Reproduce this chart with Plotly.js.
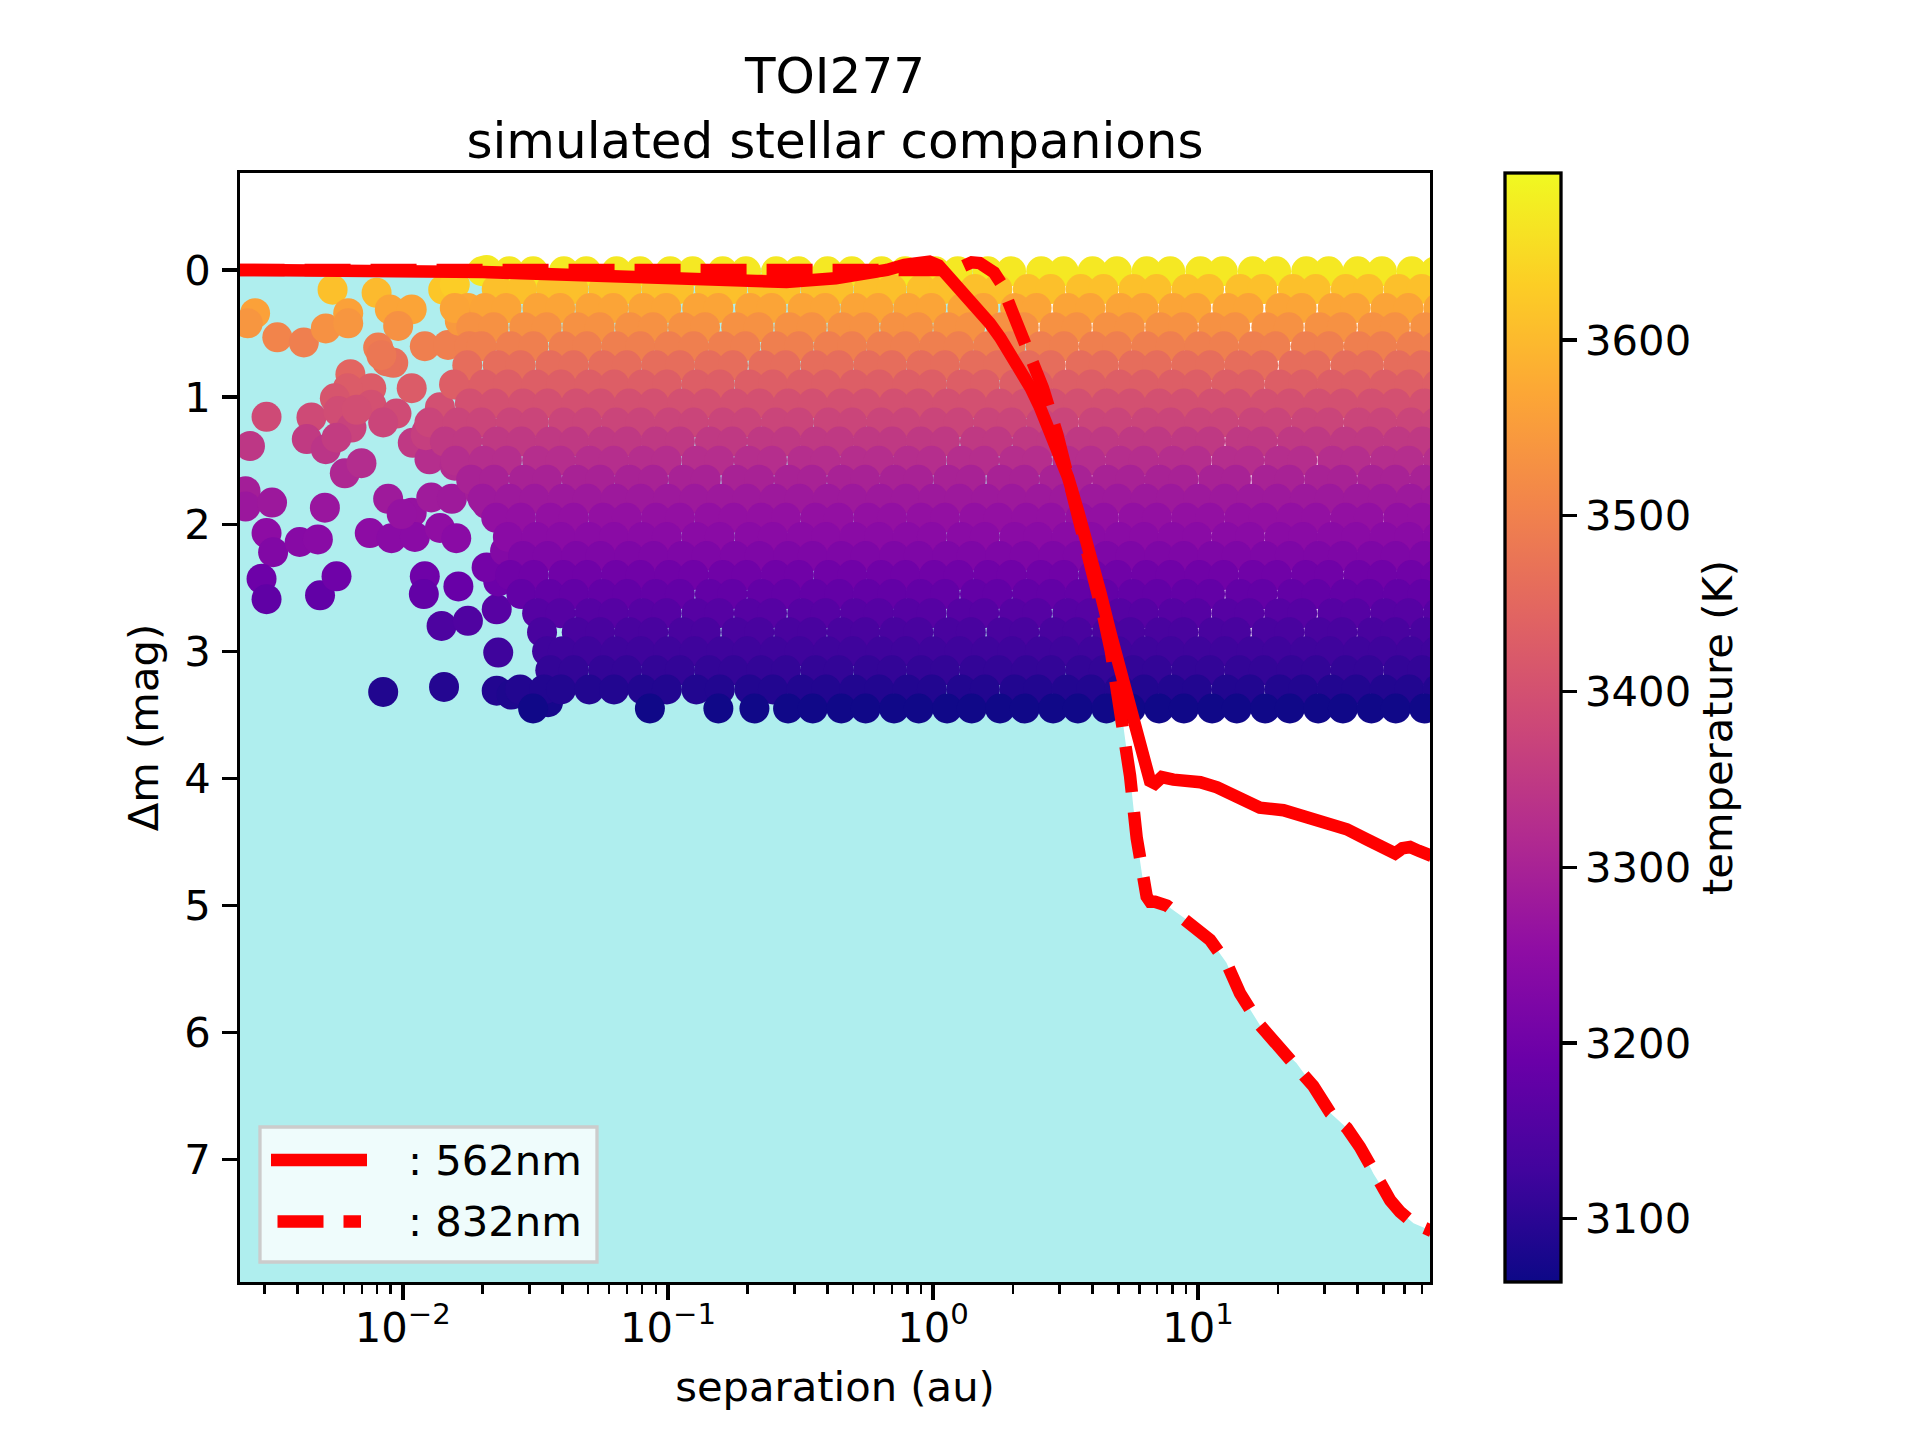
<!DOCTYPE html>
<html><head><meta charset="utf-8">
<script src="https://cdn.plot.ly/plotly-3.0.1.min.js"></script>
<style>html,body{margin:0;padding:0;background:#fff}#chart{width:1920px;height:1440px}</style>
</head><body><div id="chart"></div>
<script>
// ---------- contrast curves ----------
const sep562 = [0.0024,0.005,0.01,0.02,0.028,0.045,0.066,0.1,0.157,0.28,0.43,0.55,0.67,0.78,0.89,0.97,1.05,1.12,1.23,1.36,1.49,1.64,1.79,1.97,2.16,2.34,2.52,2.85,3.23,3.54,3.89,4.27,4.69,5.18,5.75,6.3,6.59,6.88,7.3,8.07,10.2,11.8,14.4,17.1,21.0,25.7,30.5,36.4,43.3,51.5,55.4,59,63.1,68,76];
const dm562  = [0.0,0.0,0.005,0.015,0.026,0.04,0.05,0.07,0.09,0.095,0.065,0.035,0.0,-0.04,-0.065,-0.065,-0.035,0.03,0.10,0.2,0.31,0.42,0.53,0.66,0.79,0.93,1.07,1.35,1.63,1.91,2.19,2.53,2.87,3.21,3.53,3.88,4.02,4.04,3.99,4.01,4.03,4.07,4.17,4.23,4.25,4.31,4.35,4.40,4.48,4.54,4.59,4.55,4.54,4.57,4.61];
const sep832 = [0.0024,0.005,0.01,0.02,0.04,0.1,0.2,0.4,0.6,0.8,0.95,1.05,1.2,1.3,1.4,1.5,1.6,1.7,1.8,1.9,2.09,2.30,2.60,2.94,3.33,3.77,4.07,4.4,4.69,4.95,5.22,5.54,5.87,6.18,6.4,6.6,6.88,7.62,9.6,11.1,12.8,14.4,17.1,20.4,23.5,27.2,31.5,36.4,40.8,45.9,53.1,57.8,65,76];
const dm832  = [0.0,0.0,-0.01,-0.02,-0.02,-0.02,-0.02,-0.02,-0.02,-0.015,-0.005,0.0,0.0,-0.03,-0.06,-0.055,-0.03,0.02,0.10,0.22,0.42,0.62,0.93,1.29,1.71,2.14,2.42,2.73,3.0,3.3,3.58,3.98,4.47,4.79,4.93,4.97,4.97,5.00,5.15,5.27,5.45,5.69,5.94,6.12,6.24,6.42,6.63,6.75,6.90,7.11,7.32,7.41,7.50,7.56];
const fillFloor = 10;
const curveLabels = [': 562nm', ': 832nm'];

// ---------- simulated companions: isolated points (sep [au], dm [mag], temperature [K]) ----------
const looseSep  = [0.00543,0.00796,0.00277,0.0026,0.00336,0.00423,0.00512,0.00622,0.00622,0.00893,0.0108,0.0096,0.00807,0.0121,0.0148,0.0142,0.0157,0.0176,0.0164,0.0207,
  0.00634,0.0092,0.0087,0.0108,0.0076,0.0062,0.00554,0.00306,0.00452,0.0057,0.0064,0.0076,0.00946,0.00843,0.00265,0.00434,0.00512,0.00562,0.00604,0.00698,
  0.0109,0.0123,0.0138,0.0159,0.0150,0.00255,0.00255,0.00321,0.00508,0.0088,0.0108,0.0128,0.0153,0.00306,0.00324,0.00408,0.00478,0.0075,0.00906,0.0111,
  0.0099,0.0138,0.0159,0.00293,0.00306,0.00487,0.00562,0.0121,0.0120,0.0162,0.0140,0.0176,0.0226,0.0229,0.00843,0.0143,0.0226,0.0257,0.0353,0.0229,
  0.0207,0.0195,0.0207,0.0243,0.0184,0.0067,0.0083,0.0126,0.0157,0.0122];
const looseDm   = [0.155,0.18,0.34,0.42,0.53,0.57,0.46,0.34,0.42,0.31,0.31,0.44,0.61,0.60,0.59,0.155,0.115,0.30,0.40,0.0,
  0.82,0.73,0.72,0.93,0.93,0.93,1.01,1.155,1.16,1.11,1.24,1.06,1.13,1.20,1.385,1.33,1.41,1.32,1.60,1.52,
  1.36,1.27,1.08,0.90,1.40,1.74,1.86,1.83,1.87,1.80,1.91,1.79,1.80,2.07,2.22,2.14,2.12,2.07,2.11,2.10,
  1.92,2.03,2.11,2.43,2.59,2.56,2.41,2.41,2.55,2.49,2.80,2.76,2.67,3.01,3.32,3.28,3.31,3.34,3.40,2.45,
  2.34,1.75,1.84,2.21,1.50,1.10,0.67,1.49,1.54,1.30];
const looseTemp = [3610,3600,3560,3540,3505,3495,3530,3560,3540,3565,3565,3530,3490,3495,3495,3620,3630,3570,3545,3675,
  3445,3465,3465,3425,3425,3425,3410,3385,3385,3392,3370,3400,3388,3375,3345,3352,3340,3355,3310,3322,
  3348,3365,3398,3430,3340,3290,3275,3278,3272,3282,3265,3283,3282,3250,3230,3240,3243,3250,3244,3245,
  3264,3255,3244,3196,3175,3178,3198,3198,3180,3187,3145,3150,3162,3125,3088,3092,3089,3085,3075,3193,
  3207,3290,3278,3232,3325,3395,3480,3325,3318,3362];

// ---------- simulated companions: dense cloud, one row of separations per dm level ----------
const rowDm   = [0.01,0.15,0.30,0.45,0.60,0.75,0.90,1.05,1.20,1.35,1.50,1.65,1.80,1.95,2.10,2.25,2.40,2.55,2.70,2.85,3.00,3.15,3.30,3.45];
const rowTemp = [3670,3610,3565,3530,3495,3460,3430,3400,3375,3350,3325,3300,3280,3260,3245,3225,3200,3180,3160,3140,3125,3110,3090,3068];
const rowSep = [
 [0.0199,0.0252,0.0310,0.0405,0.0492,0.0640,0.0785,0.102,0.124,0.161,0.197,0.256,0.311,0.400,0.494,0.640,0.785,1.02,1.24,1.61,1.97,2.56,3.11,4.00,4.94,6.40,7.85,10.2,12.4,16.1,19.7,25.6,31.1,40.0,49.4,64.0,78.5],
 [0.0226,0.0281,0.0362,0.0440,0.0571,0.0698,0.0905,0.110,0.144,0.175,0.228,0.278,0.361,0.440,0.571,0.698,0.905,1.10,1.44,1.75,2.28,2.78,3.61,4.40,5.71,6.98,9.05,11.0,14.4,17.5,22.8,27.8,36.1,44.0,57.1,69.8,90.5],
 [0.0157,0.0204,0.0246,0.0322,0.0392,0.0509,0.0622,0.0806,0.0985,0.129,0.155,0.204,0.246,0.322,0.392,0.509,0.622,0.806,0.985,1.29,1.55,2.04,2.46,3.22,3.92,5.09,6.22,8.06,9.85,12.9,15.5,20.4,24.6,32.2,39.2,50.9,62.2,80.6],
 [0.0181,0.0220,0.0287,0.0349,0.0455,0.0553,0.0719,0.0878,0.114,0.138,0.181,0.220,0.287,0.349,0.455,0.553,0.719,0.878,1.14,1.38,1.81,2.20,2.87,3.49,4.55,5.53,7.19,8.78,11.4,13.8,18.1,22.0,28.7,34.9,45.5,55.3,71.9,87.8],
 [0.0178,0.0198,0.0255,0.0311,0.0404,0.0495,0.0638,0.0787,0.101,0.125,0.161,0.196,0.255,0.312,0.404,0.495,0.638,0.787,1.01,1.25,1.61,1.96,2.55,3.12,4.04,4.95,6.38,7.87,10.1,12.5,16.1,19.6,25.5,31.2,40.4,49.5,63.8,78.7],
 [0.0175,0.0228,0.0278,0.0360,0.0441,0.0569,0.0700,0.0902,0.111,0.143,0.176,0.229,0.278,0.360,0.441,0.569,0.700,0.902,1.11,1.43,1.76,2.29,2.78,3.60,4.41,5.69,7.00,9.02,11.1,14.3,17.6,22.9,27.8,36.0,44.1,56.9,70.0,90.2],
 [0.0156,0.0203,0.0249,0.0319,0.0395,0.0505,0.0627,0.0801,0.0992,0.128,0.157,0.203,0.249,0.319,0.395,0.505,0.627,0.801,0.992,1.28,1.57,2.03,2.49,3.19,3.95,5.05,6.27,8.01,9.92,12.8,15.7,20.3,24.9,31.9,39.5,50.5,62.7,80.1],
 [0.0179,0.0222,0.0284,0.0352,0.0451,0.0557,0.0713,0.0884,0.113,0.140,0.179,0.222,0.284,0.352,0.451,0.557,0.713,0.884,1.13,1.40,1.79,2.22,2.84,3.52,4.51,5.57,7.13,8.84,11.3,14.0,17.9,22.2,28.4,35.2,45.1,55.7,71.3,88.4],
 [0.0126,0.0161,0.0198,0.0255,0.0312,0.0403,0.0496,0.0637,0.0788,0.101,0.125,0.161,0.198,0.255,0.312,0.403,0.496,0.637,0.788,1.01,1.25,1.61,1.98,2.55,3.12,4.03,4.96,6.37,7.88,10.1,12.5,16.1,19.8,25.5,31.2,40.3,49.6,63.7,78.8],
 [0.0144,0.0175,0.0226,0.0280,0.0358,0.0443,0.0567,0.0702,0.0898,0.111,0.144,0.175,0.226,0.280,0.358,0.443,0.567,0.702,0.898,1.11,1.44,1.75,2.26,2.80,3.58,4.43,5.67,7.02,8.98,11.1,14.4,17.5,22.6,28.0,35.8,44.3,56.7,70.2,89.8],
 [0.0158,0.0202,0.0247,0.0321,0.0393,0.0507,0.0624,0.0803,0.0988,0.128,0.156,0.202,0.247,0.321,0.393,0.507,0.624,0.803,0.988,1.28,1.56,2.02,2.47,3.21,3.93,5.07,6.24,8.03,9.88,12.8,15.6,20.2,24.7,32.1,39.3,50.7,62.4,80.3],
 [0.0181,0.0221,0.0286,0.0350,0.0453,0.0555,0.0716,0.0880,0.114,0.139,0.181,0.221,0.286,0.350,0.453,0.555,0.716,0.880,1.14,1.39,1.81,2.21,2.86,3.50,4.53,5.55,7.16,8.80,11.4,13.9,18.1,22.1,28.6,35.0,45.3,55.5,71.6,88.0],
 [0.0200,0.0253,0.0314,0.0401,0.0498,0.0635,0.0790,0.100,0.126,0.159,0.199,0.253,0.314,0.401,0.498,0.635,0.790,1.00,1.26,1.59,1.99,2.53,3.14,4.01,4.98,6.35,7.90,10.0,12.6,15.9,19.9,25.3,31.4,40.1,49.8,63.5,79.0],
 [0.0225,0.0279,0.0360,0.0441,0.0569,0.0700,0.0901,0.111,0.143,0.177,0.225,0.279,0.360,0.441,0.569,0.700,0.901,1.11,1.43,1.77,2.25,2.79,3.60,4.41,5.69,7.00,9.01,11.1,14.3,17.7,22.5,27.9,36.0,44.1,56.9,70.0,90.1],
 [0.0249,0.0319,0.0395,0.0505,0.0626,0.0801,0.0991,0.128,0.157,0.203,0.249,0.319,0.395,0.505,0.626,0.801,0.991,1.28,1.57,2.03,2.49,3.19,3.95,5.05,6.26,8.01,9.91,12.8,15.7,20.3,24.9,31.9,39.5,50.5,62.6,80.1],
 [0.0284,0.0352,0.0451,0.0557,0.0713,0.0884,0.113,0.140,0.179,0.222,0.284,0.352,0.451,0.557,0.713,0.884,1.13,1.40,1.79,2.22,2.84,3.52,4.51,5.57,7.13,8.84,11.3,14.0,17.9,22.2,28.4,35.2,45.1,55.7,71.3,88.4],
 [0.0254,0.0312,0.0403,0.0496,0.0637,0.0788,0.101,0.125,0.161,0.198,0.255,0.312,0.403,0.496,0.637,0.788,1.01,1.25,1.61,1.98,2.55,3.12,4.03,4.96,6.37,7.88,10.1,12.5,16.1,19.8,25.5,31.2,40.3,49.6,63.7,78.8],
 [0.0280,0.0358,0.0443,0.0567,0.0702,0.0898,0.111,0.144,0.175,0.226,0.280,0.358,0.443,0.567,0.702,0.898,1.11,1.44,1.75,2.26,2.80,3.58,4.43,5.67,7.02,8.98,11.1,14.4,17.5,22.6,28.0,35.8,44.3,56.7,70.2,89.8],
 [0.0321,0.0393,0.0507,0.0624,0.0803,0.0988,0.128,0.156,0.202,0.247,0.321,0.393,0.507,0.624,0.803,0.988,1.28,1.56,2.02,2.47,3.21,3.93,5.07,6.24,8.03,9.88,12.8,15.6,20.2,24.7,32.1,39.3,50.7,62.4,80.3],
 [0.0335,0.0453,0.0555,0.0716,0.0880,0.114,0.139,0.181,0.221,0.286,0.350,0.453,0.555,0.716,0.880,1.14,1.39,1.81,2.21,2.86,3.50,4.53,5.55,7.16,8.80,11.4,13.9,18.1,22.1,28.6,35.0,45.3,55.5,71.6,88.0],
 [0.0350,0.0401,0.0498,0.0635,0.0790,0.100,0.126,0.159,0.199,0.253,0.314,0.401,0.498,0.635,0.790,1.00,1.26,1.59,1.99,2.53,3.14,4.01,4.98,6.35,7.90,10.0,12.6,15.9,19.9,25.3,31.4,40.1,49.8,63.5,79.0],
 [0.0360,0.0441,0.0569,0.0700,0.0901,0.111,0.143,0.177,0.225,0.279,0.360,0.441,0.569,0.700,0.901,1.11,1.43,1.77,2.25,2.79,3.60,4.41,5.69,7.00,9.01,11.1,14.3,17.7,22.5,27.9,36.0,44.1,56.9,70.0,90.1],
 [0.0277,0.0341,0.0395,0.0505,0.0626,0.0801,0.0991,0.128,0.157,0.203,0.249,0.319,0.395,0.505,0.626,0.801,0.991,1.28,1.57,2.03,2.49,3.19,3.95,5.05,6.26,8.01,9.91,12.8,15.7,20.3,24.9,31.9,39.5,50.5,62.6,80.1],
 [0.0310,0.0855,0.155,0.212,0.284,0.352,0.451,0.557,0.713,0.884,1.13,1.40,1.79,2.22,2.84,3.52,4.51,5.57,7.13,8.84,11.3,14.0,17.9,22.2,28.4,35.2,45.1,55.7,71.3,88.4]
];

// ---------- axis ticks ----------
const xTickVals = [0.01, 0.1, 1, 10];
const xTickText = ['10<sup>\u22122</sup>', '10<sup>\u22121</sup>', '10<sup>0</sup>', '10<sup>1</sup>'];
const yTickVals = [0, 1, 2, 3, 4, 5, 6, 7];
const cbTickVals = [3100, 3200, 3300, 3400, 3500, 3600];
const minorDecades = [0.001, 0.01, 0.1, 1, 10];
const minorMult = [2, 3, 4, 5, 6, 7, 8, 9];

// matplotlib "plasma"
const plasma = [[0.0,'#0d0887'],[0.1,'#41049d'],[0.2,'#6a00a8'],[0.3,'#8f0da4'],[0.4,'#b12a90'],
  [0.5,'#cc4778'],[0.6,'#e16462'],[0.7,'#f2844b'],[0.8,'#fca636'],[0.9,'#fcce25'],[1.0,'#f0f921']];

// ---------- assemble ----------
const xLo = 0.00243, xHi = 75.0;
const minorVals = [];
minorDecades.forEach(d => minorMult.forEach(m => { const v = d * m; if (v > xLo && v < xHi) minorVals.push(v); }));

const ptSep = looseSep.slice(), ptDm = looseDm.slice(), ptTemp = looseTemp.slice();
rowSep.forEach((row, i) => row.forEach(s => { ptSep.push(s); ptDm.push(rowDm[i]); ptTemp.push(rowTemp[i]); }));

const W = 1920, H = 1440, L = 240, R = 1430, T = 173, B = 1282;
const pw = R - L, ph = B - T;
const px = v => (v - L) / pw;         // pixel -> paper x
const py = v => (B - v) / ph;         // pixel -> paper y

const traces = [
  {x: [sep832[0], sep832[sep832.length - 1]], y: [fillFloor, fillFloor], mode: 'lines',
   line: {width: 0, color: 'rgba(0,0,0,0)'}, hoverinfo: 'skip', showlegend: false},
  {x: sep832, y: dm832, mode: 'lines', fill: 'tonexty', fillcolor: '#afeeee',
   line: {width: 0, color: 'rgba(0,0,0,0)'}, hoverinfo: 'skip', showlegend: false},
  {x: ptSep, y: ptDm, mode: 'markers', type: 'scatter', showlegend: false,
   marker: {size: 30, color: ptTemp, colorscale: plasma, cmin: 3064, cmax: 3695, line: {width: 0},
     colorbar: {x: px(1505), xref: 'paper', xanchor: 'left', xpad: 0, ypad: 0, y: 0.5, yanchor: 'middle',
       len: 1, lenmode: 'fraction', thickness: 56, thicknessmode: 'pixels',
       outlinewidth: 3.3, outlinecolor: 'black', ticks: 'outside', ticklen: 14.6, tickwidth: 3.3, tickcolor: 'black',
       tickvals: cbTickVals, tickfont: {size: 41.7, family: 'DejaVu Sans', color: 'black'}, ticklabelstandoff: 14,
       title: {text: 'temperature (K)', side: 'right', font: {size: 41.7, family: 'DejaVu Sans', color: 'black'}}}}},
  {x: sep562, y: dm562, mode: 'lines', name: curveLabels[0], line: {color: '#ff0000', width: 12.5}, showlegend: false},
  {x: sep832, y: dm832, mode: 'lines', name: curveLabels[1], line: {color: '#ff0000', width: 12.5, dash: '46px,20px'}, showlegend: false}
];

const axisCommon = {showline: true, linewidth: 3.3, linecolor: 'black', mirror: true, showgrid: false, zeroline: false,
  ticks: 'outside', ticklen: 14.6, tickwidth: 3.3, tickcolor: 'black', automargin: false,
  tickfont: {size: 41.7, family: 'DejaVu Sans', color: 'black'}};

const layout = {
  width: W, height: H, margin: {l: L, r: W - R, t: T, b: H - B, pad: 0},
  paper_bgcolor: 'white', plot_bgcolor: 'white', showlegend: false,
  font: {family: 'DejaVu Sans', size: 41.7, color: 'black'},
  title: {text: 'TOI277<br>simulated stellar companions', font: {size: 50, family: 'DejaVu Sans', color: 'black'},
    xref: 'paper', x: 0.5, xanchor: 'center', yref: 'container', y: 1 - 93 / H, yanchor: 'bottom'},
  xaxis: Object.assign({}, axisCommon, {type: 'log', range: [Math.log10(xLo), Math.log10(xHi)],
    tickmode: 'array', tickvals: xTickVals, ticktext: xTickText, ticklabelstandoff: -8,
    minor: {tickmode: 'array', tickvals: minorVals, ticks: 'outside', ticklen: 8.3, tickwidth: 2.5, tickcolor: 'black', showgrid: false},
    title: {text: 'separation (au)', standoff: 22, font: {size: 41.7}}}),
  yaxis: Object.assign({}, axisCommon, {range: [7.962, -0.763], tickmode: 'array', tickvals: yTickVals, ticklabelstandoff: 3,
    title: {text: '\u0394m (mag)', standoff: 13, font: {size: 41.7}}}),
  shapes: [
    {type: 'rect', xref: 'paper', yref: 'paper', x0: px(260), x1: px(597), y0: py(1262), y1: py(1127),
     fillcolor: 'rgba(255,255,255,0.8)', line: {color: '#cccccc', width: 3.3}, layer: 'above'},
    {type: 'line', xref: 'paper', yref: 'paper', x0: px(271), x1: px(367), y0: py(1160), y1: py(1160),
     line: {color: '#ff0000', width: 12.5}, layer: 'above'},
    {type: 'line', xref: 'paper', yref: 'paper', x0: px(277.5), x1: px(361), y0: py(1221.5), y1: py(1221.5),
     line: {color: '#ff0000', width: 12.5, dash: '46px,20px'}, layer: 'above'}
  ],
  annotations: [
    {xref: 'paper', yref: 'paper', x: px(406), y: py(1160), xanchor: 'left', yanchor: 'middle', showarrow: false,
     text: curveLabels[0], font: {size: 41.7, family: 'DejaVu Sans', color: 'black'}},
    {xref: 'paper', yref: 'paper', x: px(406), y: py(1221.5), xanchor: 'left', yanchor: 'middle', showarrow: false,
     text: curveLabels[1], font: {size: 41.7, family: 'DejaVu Sans', color: 'black'}}
  ]
};

Plotly.newPlot('chart', traces, layout, {staticPlot: true, displayModeBar: false});
</script></body></html>
